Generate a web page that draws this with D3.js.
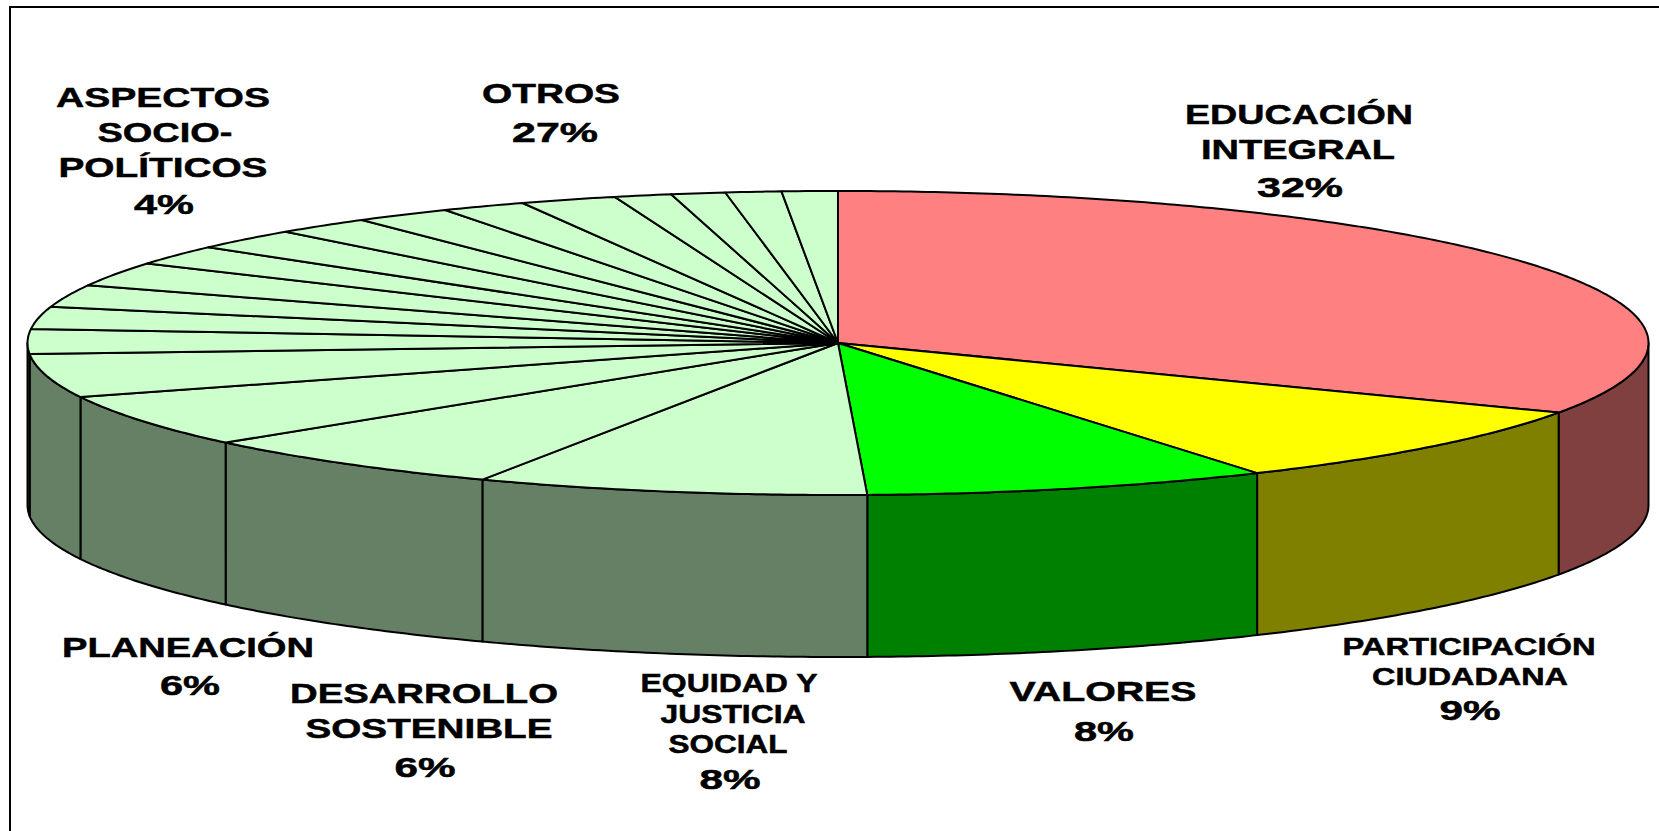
<!DOCTYPE html>
<html>
<head>
<meta charset="utf-8">
<style>
    html, body { margin: 0; padding: 0; background: #fff; }
    svg { display: block; }
    .label { font-family: "Liberation Sans", Arial, sans-serif; font-weight: bold; fill: #000; stroke: #000; stroke-width: 0.5px; text-anchor: middle; }
</style>
<script src="https://cdn.jsdelivr.net/npm/d3@7/dist/d3.min.js"></script>
</head>
<body>
<div id="chart"></div>
<script>
// slices, clockwise from 12 o'clock. the unnamed ones are the "OTROS" wedges
const categories = ["EDUCACIÓN INTEGRAL", "PARTICIPACIÓN CIUDADANA", "VALORES", "EQUIDAD Y JUSTICIA SOCIAL",
    "DESARROLLO SOSTENIBLE", "PLANEACIÓN", "ASPECTOS SOCIO-POLÍTICOS",
    "OTROS a", "OTROS b", "OTROS c", "OTROS d", "OTROS e", "OTROS f", "OTROS g",
    "OTROS h", "OTROS i", "OTROS j", "OTROS k", "OTROS l", "OTROS m", "OTROS n"];
const values = [32.55, 8.78, 8.07, 7.8, 6.4, 5.58, 4.62,
    2.64, 2.36, 2.36, 2.56, 2.08, 2.22, 1.94, 1.94, 1.69, 1.92, 1.14, 1.08, 1.11, 1.11];
const topColors = ["#FF8080", "#FFFF00", "#00FF00", "#CCFFCC", "#CCFFCC", "#CCFFCC", "#CCFFCC",
    "#CCFFCC", "#CCFFCC", "#CCFFCC", "#CCFFCC", "#CCFFCC", "#CCFFCC", "#CCFFCC",
    "#CCFFCC", "#CCFFCC", "#CCFFCC", "#CCFFCC", "#CCFFCC", "#CCFFCC", "#CCFFCC"];
const sideColors = ["#804040", "#808000", "#008000", "#668066", "#668066", "#668066", "#668066",
    "#668066", "#668066", "#668066", "#668066", "#668066", "#668066", "#668066",
    "#668066", "#668066", "#668066", "#668066", "#668066", "#668066", "#668066"];

const labelTexts = ["ASPECTOS", "SOCIO-", "POLÍTICOS", "4%",
    "OTROS", "27%",
    "EDUCACIÓN", "INTEGRAL", "32%",
    "PARTICIPACIÓN", "CIUDADANA", "9%",
    "VALORES", "8%",
    "EQUIDAD Y", "JUSTICIA", "SOCIAL", "8%",
    "DESARROLLO", "SOSTENIBLE", "6%",
    "PLANEACIÓN", "6%"];
// where each label line sits: centre x, baseline y, stretched width, font size
const labelLayout = [
    [163, 107, 214, 28], [165, 142, 135, 28], [163, 177, 209, 28], [164, 214, 60, 28],
    [551, 103, 138, 28], [555, 142, 86, 28],
    [1299, 124, 228, 28], [1298, 159, 194, 28], [1300, 197, 86, 28],
    [1469, 655, 253, 24], [1470, 685, 196, 24], [1470, 720, 61, 28],
    [1103, 701, 187, 28], [1104, 741, 60, 28],
    [729, 692, 177, 25], [733, 723, 145, 25], [728, 753, 119, 25], [730, 789, 61, 28],
    [424, 703, 268, 28], [429, 738, 247, 28], [425, 777, 61, 28],
    [188, 657, 252, 28], [190, 695, 60, 28]
];

const width = 1659, height = 831;
const cx = 838, cy = 343, rx = 810.5, ry = 152, depth = 162;

const x = d3.scaleLinear().domain([-1, 1]).range([cx - rx, cx + rx]);
const y = d3.scaleLinear().domain([-1, 1]).range([cy - ry, cy + ry]);

const pie = d3.pie().sort(null).value(d => d);
const slices = pie(values);

const line = d3.line();

// point on the rim of the tilted disc, angle from 12 o'clock clockwise
function rim(a, drop) {
    return [x(Math.sin(a)), y(-Math.cos(a)) + (drop || 0)];
}

function arcPoints(a0, a1, drop) {
    const n = Math.max(2, Math.ceil((a1 - a0) / 0.01));
    return d3.range(n + 1).map(i => rim(a0 + (a1 - a0) * i / n, drop));
}

const svg = d3.select("#chart")
    .append("svg")
    .attr("width", width)
    .attr("height", height);

svg.append("rect").attr("width", width).attr("height", height).attr("fill", "#fff");

// frame, open on the right and at the bottom
svg.append("path")
    .attr("d", line([[10, height], [10, 7], [width, 7]]))
    .attr("fill", "none")
    .attr("stroke", "#000")
    .attr("stroke-width", 2);

// only the front half of the rim has a wall
const frontStart = Math.PI / 2, frontEnd = 3 * Math.PI / 2;

svg.append("g").selectAll("path")
    .data(slices.filter(d => d.endAngle > frontStart && d.startAngle < frontEnd))
    .enter().append("path")
    .attr("d", d => {
        const a0 = Math.max(d.startAngle, frontStart);
        const a1 = Math.min(d.endAngle, frontEnd);
        return line(arcPoints(a0, a1, 0).concat(arcPoints(a0, a1, depth).reverse())) + "Z";
    })
    .attr("fill", d => sideColors[d.index])
    .attr("stroke", "#000")
    .attr("stroke-width", 2)
    .attr("stroke-linejoin", "round");

svg.append("g").selectAll("path")
    .data(slices)
    .enter().append("path")
    .attr("d", d => line([[cx, cy]].concat(arcPoints(d.startAngle, d.endAngle, 0))) + "Z")
    .attr("fill", d => topColors[d.index])
    .attr("stroke", "#000")
    .attr("stroke-width", 2)
    .attr("stroke-linejoin", "round");

svg.append("g").selectAll("text")
    .data(labelTexts)
    .enter().append("text")
    .attr("class", "label")
    .attr("x", (d, i) => labelLayout[i][0])
    .attr("y", (d, i) => labelLayout[i][1])
    .attr("textLength", (d, i) => labelLayout[i][2])
    .attr("lengthAdjust", "spacingAndGlyphs")
    .style("font-size", (d, i) => labelLayout[i][3] + "px")
    .text(d => d);
</script>
</body>
</html>
